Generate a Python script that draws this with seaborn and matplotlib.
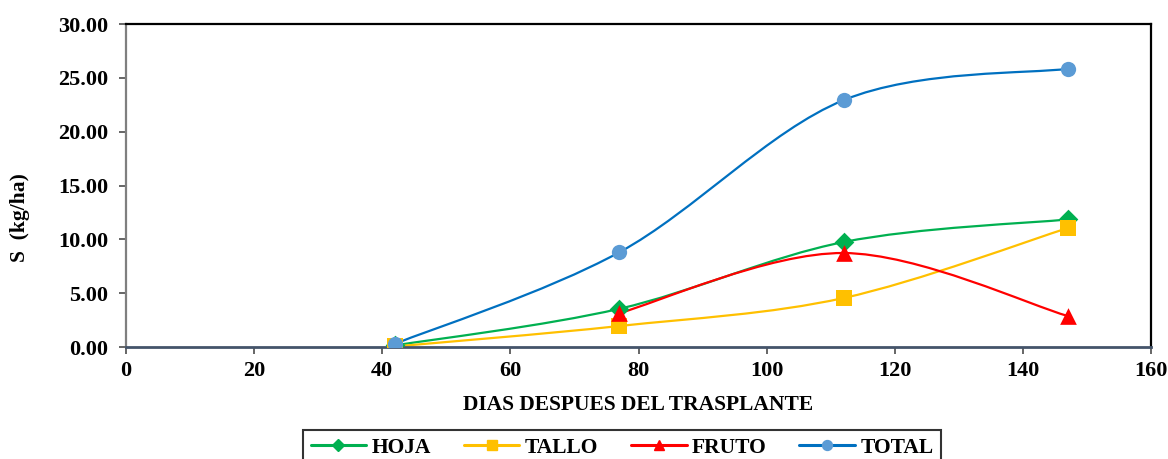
import numpy as np
import matplotlib
matplotlib.use("Agg")
import matplotlib.pyplot as plt
from matplotlib.path import Path
from matplotlib.patches import PathPatch
from matplotlib.lines import Line2D
import seaborn as sns
import pandas as pd

dias = [42, 77, 112, 147]
hoja = [0.15, 3.55, 9.75, 11.85]
tallo = [0.05, 1.95, 4.55, 11.05]
fruto_dias = [77, 112, 147]
fruto = [3.15, 8.73, 2.88]
total = [0.30, 8.80, 22.93, 25.85]
x_ticks = [0, 20, 40, 60, 80, 100, 120, 140, 160]
y_ticks = [0, 5, 10, 15, 20, 25, 30]

sns.set_theme(style="white")
plt.rcParams['font.family'] = ['Liberation Serif', 'DejaVu Serif']
plt.rcParams['font.weight'] = 'bold'
plt.rcParams['text.color'] = 'black'
plt.rcParams['axes.labelcolor'] = 'black'

fig = plt.figure(figsize=(11.68, 4.59), dpi=100)
ax = fig.add_axes([0.1079, 0.244, 0.8776, 0.7036])

def smooth_path(xs, ys):
    pts = np.column_stack([xs, ys]).astype(float)
    n = len(pts)
    verts = [pts[0]]
    codes = [Path.MOVETO]
    for i in range(n - 1):
        p0 = pts[i - 1] if i > 0 else pts[i]
        p1 = pts[i]
        p2 = pts[i + 1]
        p3 = pts[i + 2] if i + 2 < n else pts[i + 1]
        c1 = p1 + (p2 - p0) / 6.0
        c2 = p2 - (p3 - p1) / 6.0
        verts += [c1, c2, p2]
        codes += [Path.CURVE4] * 3
    return Path(verts, codes)

series = [
    ("HOJA", dias, hoja, "#00B050", "#00B050", "D", 10),
    ("TALLO", dias, tallo, "#FFC000", "#FFC000", "s", 11),
    ("FRUTO", fruto_dias, fruto, "#FF0000", "#FF0000", "^", 12),
    ("TOTAL", dias, total, "#0070C0", "#5B9BD5", "o", 11),
]

handles = []
for name, xs, ys, lc, mc, mk, ms in series:
    patch = PathPatch(smooth_path(xs, ys), facecolor="none", edgecolor=lc, lw=1.6, zorder=2)
    ax.add_patch(patch)
    df = pd.DataFrame({"x": xs, "y": ys})
    sns.scatterplot(data=df, x="x", y="y", ax=ax, marker=mk, s=ms ** 2, color=mc,
                    edgecolor=mc, linewidth=0, zorder=3, legend=False)
    handles.append(Line2D([], [], color=lc, lw=2.2, marker=mk, markersize=ms * 0.65,
                          markerfacecolor=mc, markeredgecolor=mc, label=name))

ax.set_xlim(0, 160)
ax.set_ylim(0, 30)
ax.set_xticks(x_ticks)
ax.set_yticks(y_ticks)
ax.set_yticklabels([f"{v:.2f}" for v in y_ticks])
ax.tick_params(axis="both", labelsize=16, length=5, width=1.3, direction="out",
               colors="#595959", labelcolor="black", bottom=True, left=True)
ax.tick_params(axis="x", pad=5)
ax.tick_params(axis="y", pad=8)
for lab in ax.get_xticklabels() + ax.get_yticklabels():
    lab.set_fontweight("bold")

ax.set_xlabel("DIAS DESPUES DEL TRASPLANTE", fontsize=15.5, fontweight="bold", va="center")
ax.set_ylabel("S  (kg/ha)", fontsize=15.5, fontweight="bold", va="center")
ax.xaxis.set_label_coords(0.4995, -0.18)
ax.yaxis.set_label_coords(-0.1034, 0.40)

ax.spines["left"].set_color("#7F7F7F")
ax.spines["left"].set_linewidth(1.6)
ax.spines["bottom"].set_color("#44546A")
ax.spines["bottom"].set_linewidth(2)
for s in ["top", "right"]:
    ax.spines[s].set_color("black")
    ax.spines[s].set_linewidth(1.6)
ax.grid(False)

leg = fig.legend(handles=handles, loc="upper center", bbox_to_anchor=(0.5325, 0.063),
                 ncol=4, frameon=True, fancybox=False, edgecolor="black",
                 prop={"size": 15.5, "weight": "bold"}, handlelength=2.6,
                 handletextpad=0.25, columnspacing=1.5, borderaxespad=0, borderpad=0.35)
leg.get_frame().set_linewidth(1.5)

fig.savefig("out.png", dpi=100)
